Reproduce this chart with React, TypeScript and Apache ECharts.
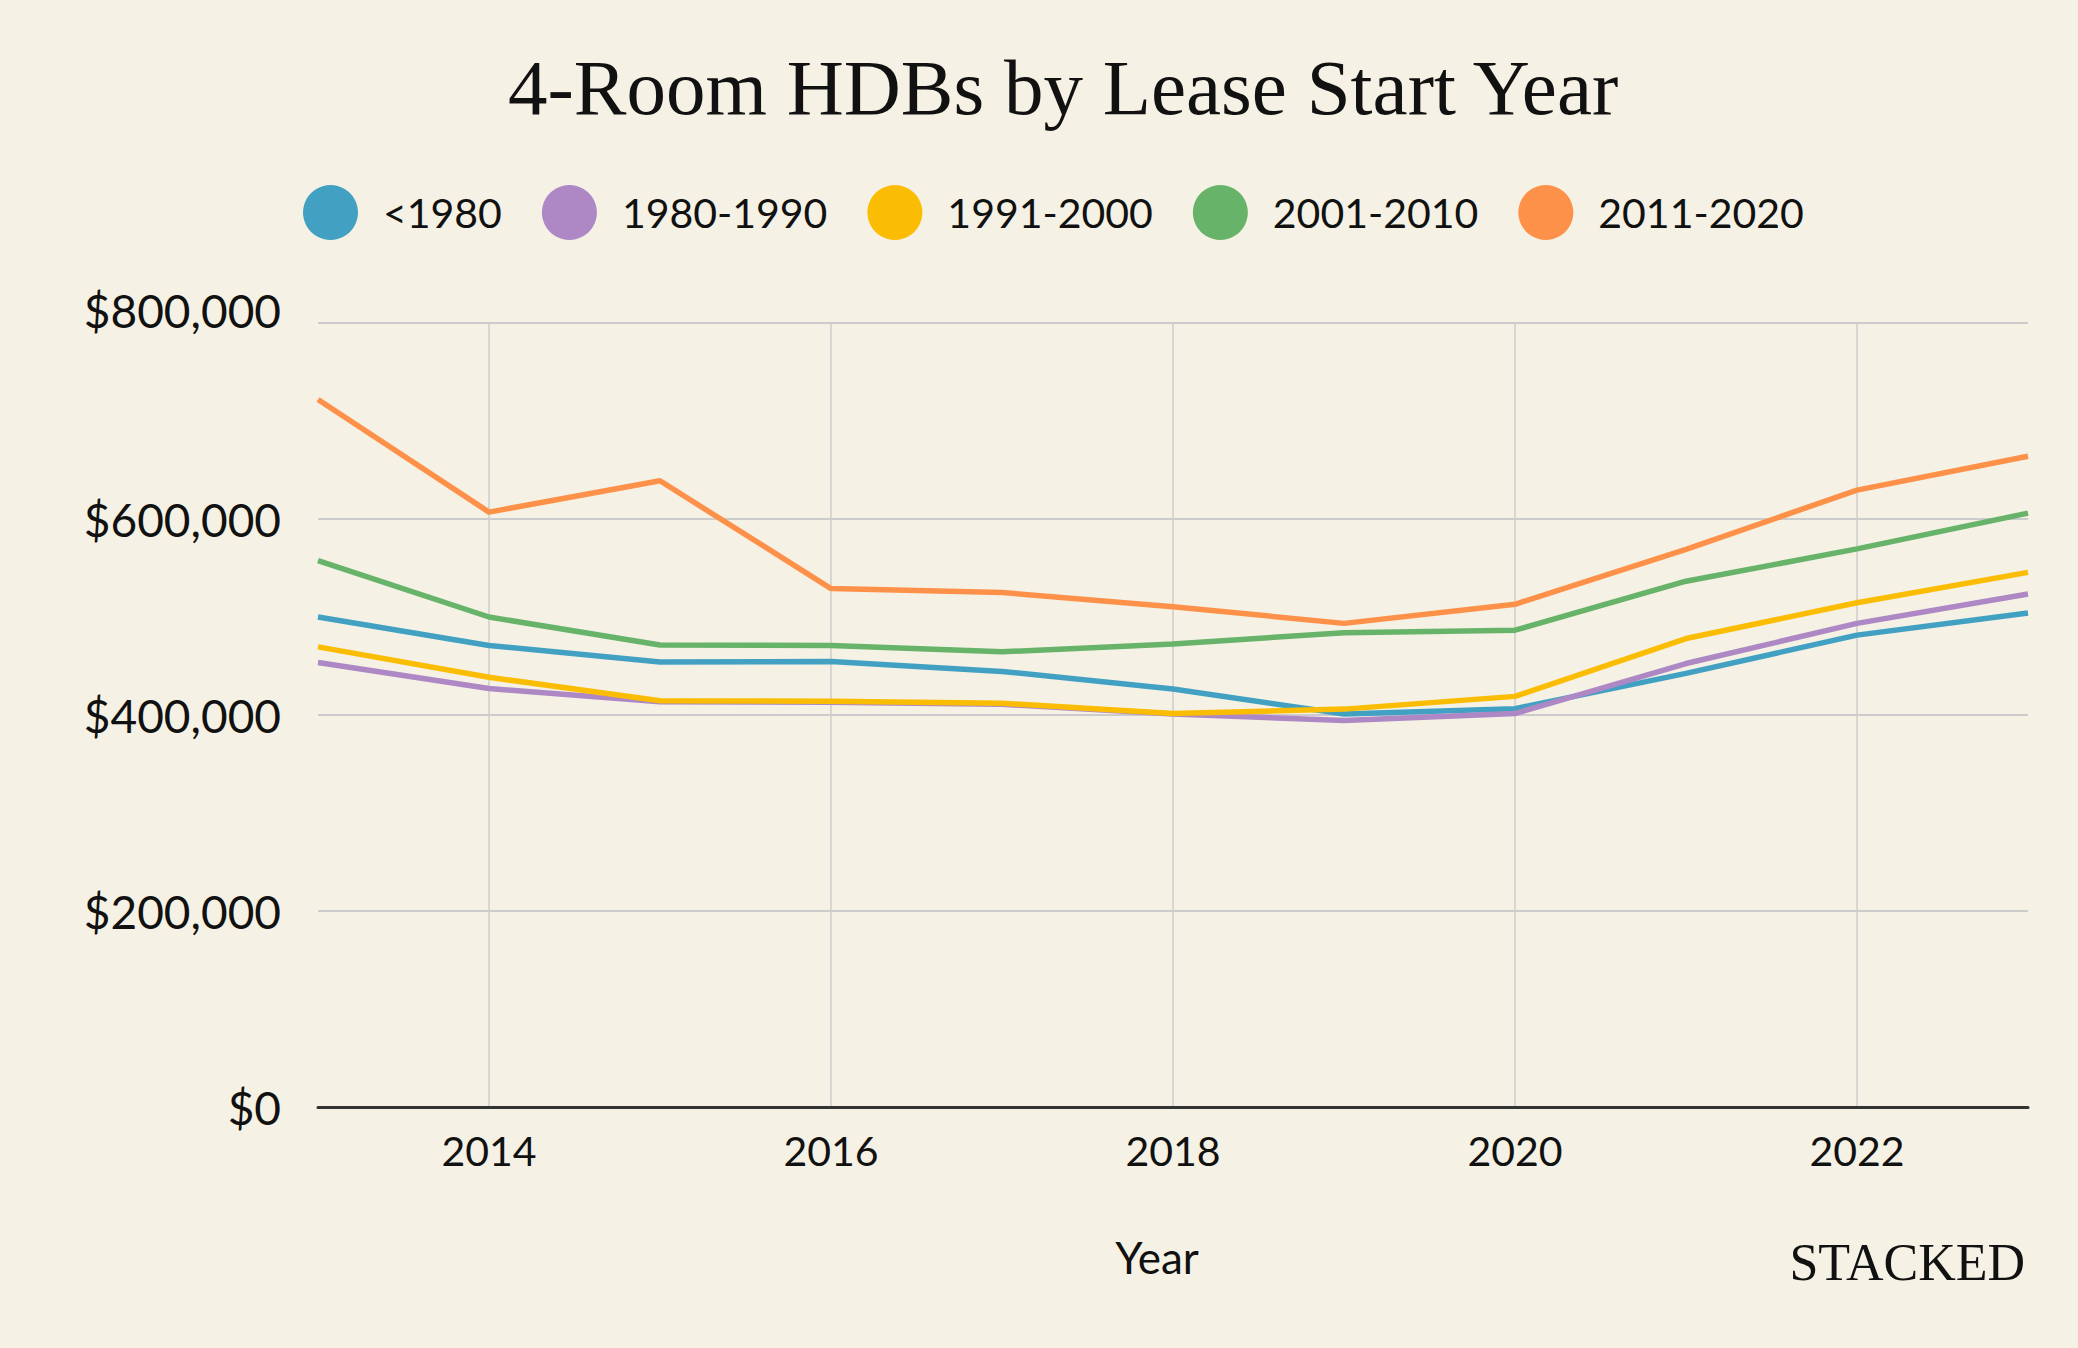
import React, { useEffect, useRef } from "react";
import * as echarts from "echarts";

const years = ["2013", "2014", "2015", "2016", "2017", "2018", "2019", "2020", "2021", "2022", "2023"];
const seriesNames = ["<1980", "1980-1990", "1991-2000", "2001-2010", "2011-2020"];
const before1980 = [500000, 471000, 454000, 454500, 444500, 426500, 401000, 406500, 442500, 481500, 504000];
const y1980to1990 = [453500, 427000, 413500, 413000, 411000, 401000, 394500, 401500, 452500, 493500, 523500];
const y1991to2000 = [469500, 438500, 414500, 414000, 412000, 401500, 406000, 419000, 478000, 514500, 545500];
const y2001to2010 = [557500, 500000, 471500, 471000, 464500, 472500, 484000, 486500, 536500, 569500, 606000];
const y2011to2020 = [722000, 607000, 639000, 529000, 525000, 510500, 493500, 513000, 569000, 629500, 664000];
const seriesValues = [before1980, y1980to1990, y1991to2000, y2001to2010, y2011to2020];
const colors = ["#42a1c3", "#ad88c5", "#fbbd04", "#67b36a", "#fe914a"];
const yMax = 800000;

const SANS = "Lato, 'Noto Sans', sans-serif";
const SERIF = "'Liberation Serif', 'DejaVu Serif', serif";

export default function App() {
  const ref = useRef<HTMLDivElement>(null);
  useEffect(() => {
    document.body.style.margin = "0";
    document.body.style.background = "#f5f1e4";
    if (!ref.current) return;
    const chart = echarts.init(ref.current, undefined, { renderer: "svg" });
    const showOdd = (index: number) => index % 2 === 1;
    chart.setOption({
      animation: false,
      backgroundColor: "#f5f1e4",
      color: colors,
      title: {
        text: "4-Room HDBs by Lease Start Year",
        left: 503,
        top: 43,
        textStyle: { fontFamily: SERIF, fontSize: 79, fontWeight: "normal", color: "#111" },
      },
      legend: {
        left: 298,
        top: 180,
        icon: "circle",
        itemWidth: 55,
        itemHeight: 55,
        itemGap: 40,
        data: seriesNames,
        textStyle: { fontFamily: SANS, fontSize: 41, color: "#111", padding: [0, 0, 0, 20] },
      },
      grid: { left: 318, right: 50, top: 323, bottom: 241, containLabel: false },
      xAxis: {
        type: "category",
        data: years,
        boundaryGap: false,
        name: "Year",
        nameLocation: "middle",
        nameGap: 128,
        nameTextStyle: { fontFamily: SANS, fontSize: 44, color: "#111", padding: [0, 32, 0, 0] },
        axisLine: { show: true, lineStyle: { color: "#333", width: 3 } },
        axisTick: { show: false },
        axisLabel: {
          interval: showOdd,
          fontFamily: SANS,
          fontSize: 41,
          color: "#111",
          margin: 23,
        },
        splitLine: { show: true, interval: showOdd, lineStyle: { color: "#cccccc", width: 1.5 } },
      },
      yAxis: {
        type: "value",
        min: 0,
        max: yMax,
        interval: 200000,
        axisLine: { show: false },
        axisTick: { show: false },
        axisLabel: {
          fontFamily: SANS,
          fontSize: 46,
          color: "#111",
          margin: 37,
          formatter: (v: number) => {
            const s = "$" + v.toLocaleString("en-US");
            return v === yMax ? "{top|" + s + "}" : s;
          },
          rich: {
            top: { fontFamily: SANS, fontSize: 46, color: "#111", padding: [0, 0, 26, 0] },
          },
        },
        splitLine: { show: true, lineStyle: { color: "#cccccc", width: 2 } },
      },
      series: seriesNames.map((name, i) => ({
        name,
        type: "line",
        data: seriesValues[i],
        symbol: "none",
        lineStyle: { width: 5.5, color: colors[i] },
        itemStyle: { color: colors[i] },
      })),
      graphic: [
        {
          type: "text",
          right: 53,
          top: 1236,
          style: { text: "STACKED", fontFamily: SERIF, fontSize: 52, fill: "#111" },
        },
      ],
    });
    return () => chart.dispose();
  }, []);
  return <div ref={ref} style={{ width: 2078, height: 1348 }} />;
}
